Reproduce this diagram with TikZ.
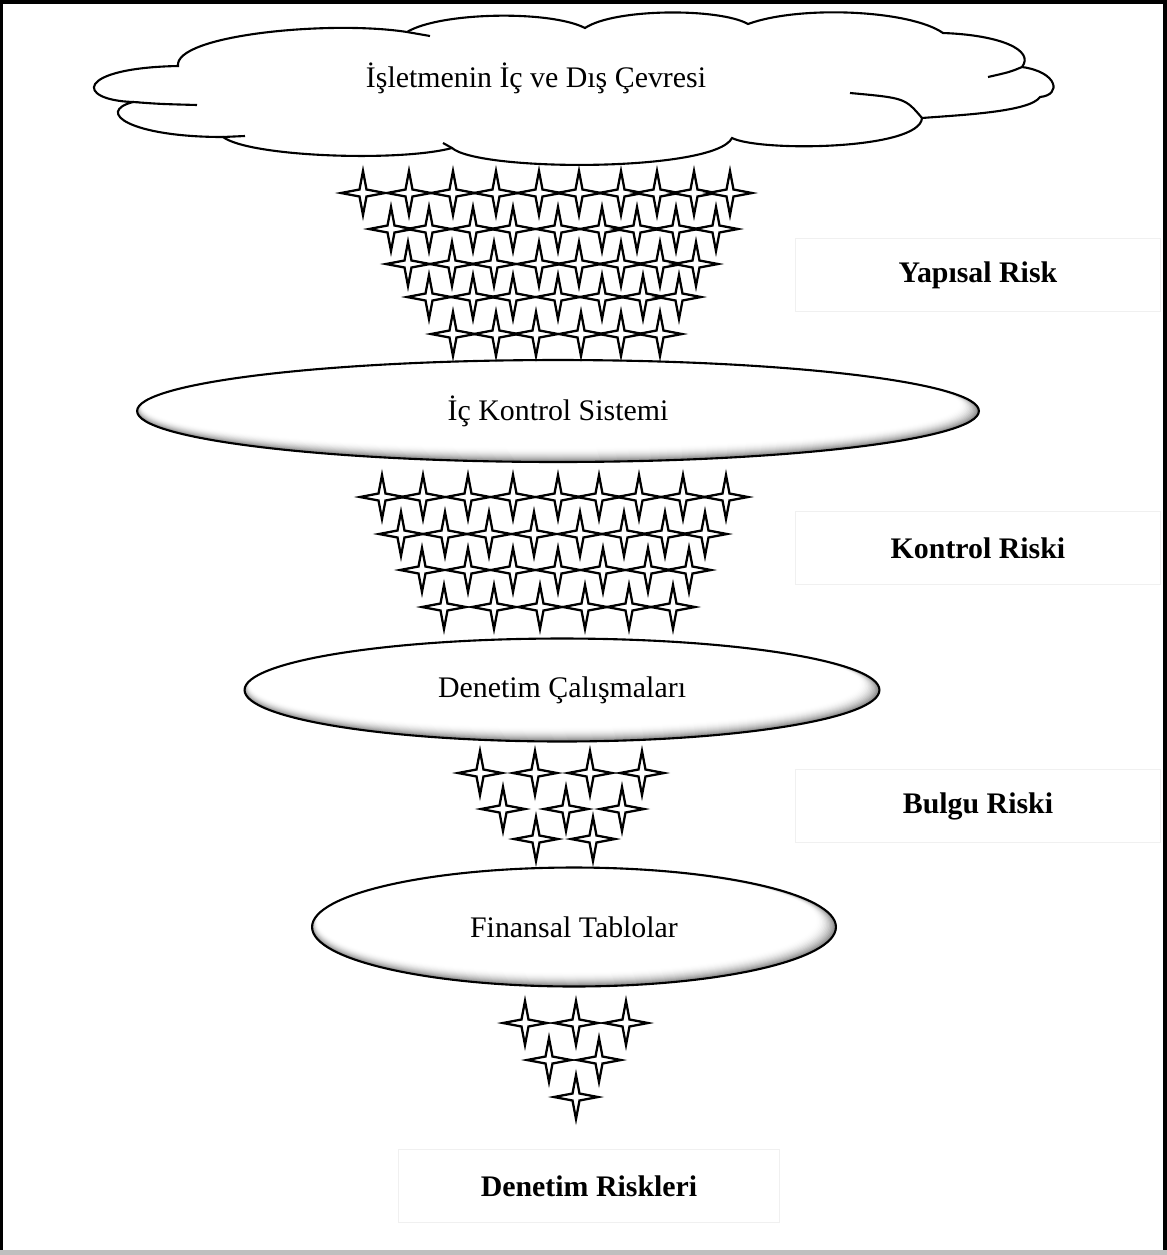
\documentclass[tikz,border=0pt]{standalone}
\usepackage{fontspec}
\setmainfont{Liberation Serif}
\usetikzlibrary{shapes.geometric}
\newcommand\shadedell[4]{%
  \foreach \i in {0,...,14}{%
    \pgfmathsetmacro\ellc{48*(1-\i/14)^2}%
    \pgfmathsetmacro\ellx{#1-0.5*\i}%
    \pgfmathsetmacro\elly{#2-0.45*\i}%
    \pgfmathsetmacro\ellrx{#3-0.9*\i}%
    \pgfmathsetmacro\ellry{#4-0.55*\i}%
    \fill[black!\ellc] (\ellx,\elly) ellipse [x radius=\ellrx, y radius=\ellry];%
  }%
}
\tikzset{
  txt/.style={font=\fontsize{17}{20}\selectfont, text=black},
  lbl/.style={font=\bfseries\fontsize{17}{20}\selectfont, draw=black!6, line width=0.6pt, inner sep=0pt, minimum width=7.3cm, minimum height=1.46cm},
  ell/.style={ellipse, draw=black, line width=1.2pt, inner sep=0pt, font=\fontsize{17}{20}\selectfont},
  starshape/.pic={
    \draw[line width=1.3pt, fill=white] (0,-22) -- (3.5,-3.5) -- (22,0) -- (3.5,3.5) -- (0,22) -- (-3.5,3.5) -- (-22,0) -- (-3.5,-3.5) -- cycle;
  }
}
\begin{document}
\begin{tikzpicture}[x=0.02cm,y=-0.02cm]
\useasboundingbox (0,0) rectangle (1167,1255);
\fill[white] (0,0) rectangle (1167,1255);
% frame
\fill[black] (0,0) rectangle (1167,4);
\fill[black] (0,0) rectangle (3,1255);
\fill[black] (1163,0) rectangle (1167,1255);
\fill[black!25] (0,1250) rectangle (1167,1255);

% cloud
\draw[line width=1.2pt, fill=white]
  (178,66) .. controls (174,35) and (330,20) .. (407,32)
  .. controls (440,12) and (550,10) .. (585,28)
  .. controls (615,8) and (720,8) .. (748,24)
  .. controls (800,5) and (910,10) .. (943,33)
  .. controls (1000,35) and (1035,50) .. (1022,67)
  .. controls (1058,72) and (1062,95) .. (1040,97)
  .. controls (1030,112) and (960,115) .. (922,118)
  .. controls (920,150) and (760,152) .. (732,138)
  .. controls (715,172) and (480,172) .. (452,148)
  .. controls (400,162) and (250,157) .. (223,137)
  .. controls (130,137) and (95,112) .. (133,102)
  .. controls (75,100) and (75,68) .. (178,66) -- cycle;
\draw[line width=1.2pt] (407,32) -- (430,36);
\draw[line width=1.2pt] (1022,67) .. controls (1010,72) .. (988,77);
\draw[line width=1.2pt] (922,118) .. controls (905,98) .. (850,93);
\draw[line width=1.2pt] (452,148) -- (443,143);
\draw[line width=1.2pt] (223,137) -- (245,136);
\draw[line width=1.2pt] (133,102) .. controls (160,104) .. (197,105);
\node[txt] (cloudtext) at (536,78) {İşletmenin İç ve Dış Çevresi};

% ellipses
\shadedell{558}{411}{421}{51}
\shadedell{562}{690}{317.5}{51.5}
\shadedell{574}{927}{262}{59.5}
\node[ell, minimum width=16.84cm, minimum height=2.04cm] (ick) at (558,411) {İç Kontrol Sistemi};
\node[ell, minimum width=12.7cm, minimum height=2.06cm] (dc) at (562,690) {Denetim Çalışmaları};
\node[ell, minimum width=10.48cm, minimum height=2.38cm] (ft) at (574,927) {Finansal Tablolar};

% stars
\foreach \yy/\xs in {193/{363,409,453,496,539,579,621,657,694,730},
                     229/{391,429,473,513,558,602,637,676,716},
                     264/{408,452,494,539,579,621,660,696},
                     297/{429,473,513,558,602,643,679},
                     334/{453,496,536,581,621,660},
                     497/{382,423,468,513,558,599,639,683,726},
                     534/{401,445,489,534,580,624,665,705},
                     570/{422,468,513,558,603,648,689},
                     607/{444,494,540,585,629,673},
                     773/{480,535,590,642},
                     809/{503,566,622},
                     839/{536,593},
                     1023/{525,576,626},
                     1060/{549,599},
                     1097/{576}}{
  \foreach \xx in \xs {\pic at (\xx,\yy) {starshape};}
}

% labels
\node[lbl] (yr) at (978,275) {Yapısal Risk};
\node[lbl] (kr) at (978,548) {Kontrol Riski};
\node[lbl] (br) at (978,806) {Bulgu Riski};
\node[lbl, minimum width=7.64cm] (dr) at (589,1186) {Denetim Riskleri};
\end{tikzpicture}
\end{document}
